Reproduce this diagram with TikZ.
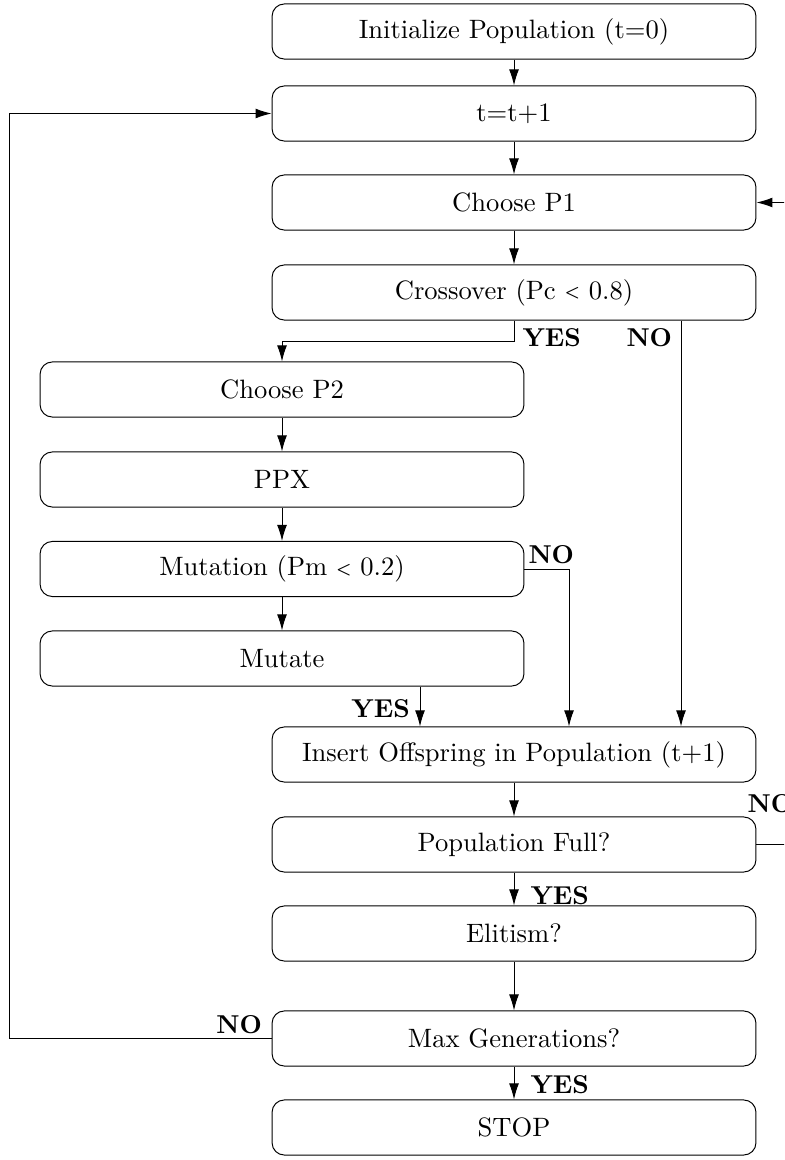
\documentclass[tikz,border=0pt]{standalone}
\usetikzlibrary{arrows.meta}
\newcommand{\lessmark}{\raisebox{0.5pt}{\scriptsize\bfseries<}}
\tikzset{
  block/.style={draw, rounded corners=5pt, minimum width=196.7pt, minimum height=22.4pt, inner sep=0pt, font=\fontsize{10.8}{13}\selectfont},
  lbl/.style={font=\fontsize{10.5}{12}\selectfont\bfseries, anchor=base west, inner sep=0pt},
  >={Latex[length=6.5pt,width=4pt]}
}
\begin{document}
\begin{tikzpicture}[x=0.4065pt, y=-0.4065pt]
\clip (0,0) rectangle (784,1160);
% boxes
\node[block] (init) at (514,31.5) {Initialize Population (t=0)};
\node[block] (tinc) at (514,113.5) {t=t+1};
\node[block] (choosea) at (514,202.5) {Choose P1};
\node[block] (cross) at (514,292.5) {Crossover (Pc \lessmark{} 0.8)};
\node[block] (chooseb) at (282,389.5) {Choose P2};
\node[block] (ppx) at (282,479.5) {PPX};
\node[block] (mut) at (282,569) {Mutation (Pm \lessmark{} 0.2)};
\node[block] (mutate) at (282,658.5) {Mutate};
\node[block] (insert) at (514,754.5) {Insert Offspring in Population (t+1)};
\node[block] (full) at (514,844.5) {Population Full?};
\node[block] (elit) at (514,933.5) {Elitism?};
\node[block] (maxgen) at (514,1038.5) {Max Generations?};
\node[block] (stop) at (514,1127.5) {STOP};
% helper coordinates
\coordinate (nocross) at (681,0);
\coordinate (nomut) at (569,0);
\coordinate (yesmut) at (420,0);
% main line
\draw[->] (init) -- (tinc);
\draw[->] (tinc) -- (choosea);
\draw[->] (choosea) -- (cross);
\draw[->] (cross.south) -- ++(0,21) -| (chooseb.north);
\draw[->] (nocross |- cross.south) -- (nocross |- insert.north);
\draw[->] (chooseb) -- (ppx);
\draw[->] (ppx) -- (mut);
\draw[->] (mut) -- (mutate);
\draw[->] (mut.east) -| (nomut |- insert.north);
\draw[->] (yesmut |- mutate.south) -- (yesmut |- insert.north);
\draw[->] (insert) -- (full);
\draw[->] (full.east) -- ++(40,0) |- (choosea.east);
\draw[->] (full) -- (elit);
\draw[->] (elit) -- (maxgen);
\draw[->] (maxgen.west) -- ++(-262,0) |- (tinc.west);
\draw[->] (maxgen) -- (stop);
% labels
\node[lbl] (yescross) at (522,347) {YES};
\node[lbl] (nocrosslbl) at (626,347) {NO};
\node[lbl] (nomutlbl) at (528,563) {NO};
\node[lbl] (yesmutlbl) at (351,717) {YES};
\node[lbl] (nofull) at (747,812) {NO};
\node[lbl] (yesfull) at (530,904) {YES};
\node[lbl] (nomax) at (216,1033) {NO};
\node[lbl] (yesmax) at (530,1093) {YES};
\end{tikzpicture}
\end{document}
